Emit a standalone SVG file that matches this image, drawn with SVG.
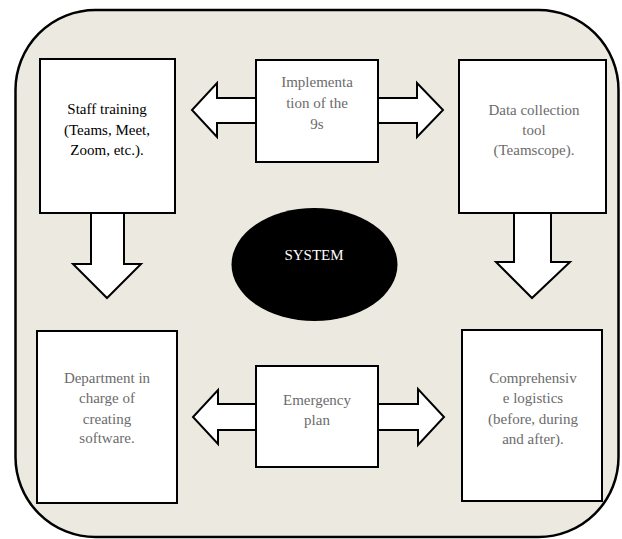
<svg xmlns="http://www.w3.org/2000/svg" width="622" height="539" viewBox="0 0 622 539" font-family="Liberation Serif, serif">
<style>
.box{fill:#fff;stroke:#000;stroke-width:2}
.arr{fill:#fff;stroke:#000;stroke-width:2;stroke-linejoin:miter}
text{font-family:'Liberation Serif',serif;font-size:15px;text-anchor:middle}
.g{fill:#6b6b6b}
.k{fill:#000}
</style>
<rect x="15.5" y="10" width="603" height="527" rx="80" ry="80" fill="#ECEAE0" stroke="#000" stroke-width="2.5"/>
<g id="connectors">
<path class="arr" d="M91,213 L91,264 L73,264 L107,298 L141,264 L124,264 L124,213"/>
<path class="arr" d="M514,213 L514,262 L496,262 L532,298 L570,262 L551,262 L551,213"/>
<path class="arr" d="M256,98 L217,98 L217,83 L192,110 L217,137 L217,123 L256,123"/>
<path class="arr" d="M378,98 L417,98 L417,83 L443,110 L417,137 L417,123 L378,123"/>
<path class="arr" d="M256,404 L218,404 L218,390 L193,417 L218,444 L218,430 L256,430"/>
<path class="arr" d="M378,404 L418,404 L418,389 L444,417 L418,445 L418,430 L378,430"/>
</g>
<g id="staff">
<rect class="box" x="40" y="59" width="135" height="154"/>
<text class="k" x="107" y="114">Staff training</text>
<text class="k" x="107" y="135">(Teams, Meet,</text>
<text class="k" x="107" y="155">Zoom, etc.).</text>
</g>
<g id="impl">
<rect class="box" x="256" y="60" width="122" height="102"/>
<text class="g" x="317" y="87">Implementa</text>
<text class="g" x="317" y="108">tion of the</text>
<text class="g" x="317" y="129">9s</text>
</g>
<g id="data">
<rect class="box" x="459" y="60" width="147" height="153"/>
<text class="g" x="534" y="115">Data collection</text>
<text class="g" x="534" y="135">tool</text>
<text class="g" x="534" y="155">(Teamscope).</text>
</g>
<g id="system">
<ellipse cx="314.5" cy="264.5" rx="83" ry="56.5" fill="#000"/>
<text x="314" y="260" fill="#fff">SYSTEM</text>
</g>
<g id="dept">
<rect class="box" x="37" y="331" width="140" height="172"/>
<text class="g" x="107" y="383">Department in</text>
<text class="g" x="107" y="403">charge of</text>
<text class="g" x="107" y="424">creating</text>
<text class="g" x="107" y="443">software.</text>
</g>
<g id="emergency">
<rect class="box" x="256" y="366" width="122" height="101"/>
<text class="g" x="317" y="405">Emergency</text>
<text class="g" x="317" y="425">plan</text>
</g>
<g id="logistics">
<rect class="box" x="462" y="330" width="140" height="171"/>
<text class="g" x="533" y="383">Comprehensiv</text>
<text class="g" x="533" y="403">e logistics</text>
<text class="g" x="533" y="424">(before, during</text>
<text class="g" x="533" y="444">and after).</text>
</g>
</svg>
